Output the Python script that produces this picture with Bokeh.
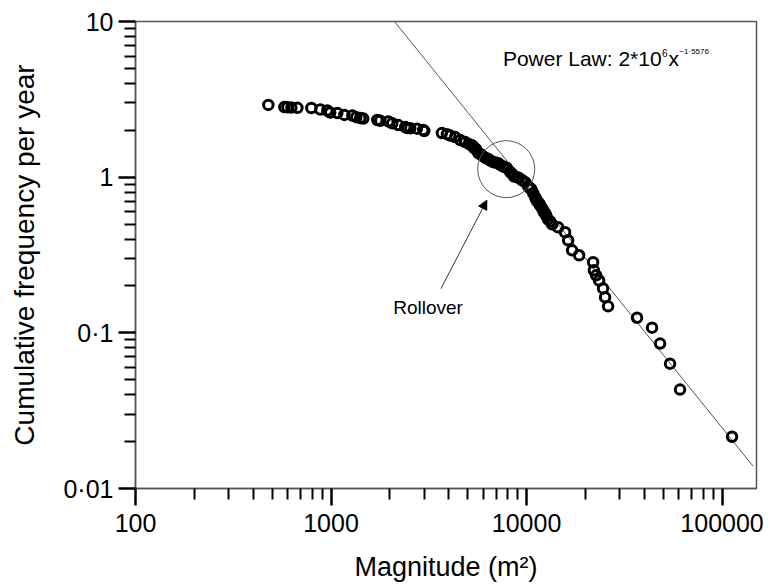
from bokeh.plotting import figure
from bokeh.models import FixedTicker, Label, Arrow, NormalHead
from bokeh.embed import file_html
from bokeh.resources import INLINE

# ---- data ----
magnitude = [478, 577, 598, 627, 673, 793, 882, 957, 991, 1077, 1170, 1285, 1347, 1412, 1462,
             1725, 1786, 1963, 2057, 2208, 2398, 2454, 2543, 2750, 2963, 2997,
             3690, 3915, 4070, 4315, 4580, 4855, 5090, 5210, 5330, 5395, 5525, 5660, 5795, 5860,
             6070, 6220, 6365, 6520, 6750, 6920, 7160, 7330, 7590, 7780, 7960, 8245, 8440,
             8645, 8955, 9160, 9500, 9840, 10190, 10420, 10570, 10810, 11070, 11200, 11330,
             11590, 11730, 12020, 12160, 12300, 12450, 12590, 12880, 13210, 13520,
             14490, 15740, 16320, 17100, 18580, 21900, 22100, 22700, 23500, 24620, 25220,
             26130, 36740, 43850, 48200, 54200, 60950, 112500]
frequency = [2.91, 2.82, 2.81, 2.80, 2.79, 2.78, 2.72, 2.68, 2.60, 2.58, 2.51, 2.49, 2.43, 2.40, 2.38,
             2.33, 2.30, 2.28, 2.22, 2.16, 2.10, 2.07, 2.06, 2.05, 2.01, 1.98,
             1.92, 1.89, 1.85, 1.81, 1.73, 1.68, 1.63, 1.61, 1.58, 1.54, 1.51, 1.43, 1.41, 1.39,
             1.35, 1.32, 1.31, 1.28, 1.25, 1.24, 1.23, 1.20, 1.17, 1.16, 1.14, 1.08, 1.05,
             1.01, 1.00, 0.986, 0.956, 0.929, 0.875, 0.849, 0.838, 0.789, 0.743, 0.722, 0.700,
             0.680, 0.660, 0.631, 0.612, 0.595, 0.586, 0.569, 0.536, 0.520, 0.498,
             0.477, 0.443, 0.393, 0.339, 0.315, 0.284, 0.252, 0.234, 0.217, 0.193, 0.169,
             0.148, 0.125, 0.108, 0.0853, 0.0634, 0.0432, 0.0215]

x_ticks = [100, 1000, 10000, 100000]
x_tick_labels = ["100", "1000", "10000", "100000"]
y_ticks = [0.01, 0.1, 1, 10]
y_tick_labels = ["0\u00b701", "0\u00b71", "1", "10"]

# power-law line as drawn
fit_coef = 1.508e6
fit_exp = -1.5576
fit_x = [2000, 144200]
fit_y = [fit_coef * xv ** fit_exp for xv in fit_x]

# rollover marker
rollover_x = [7870]
rollover_y = [1.126]

FONT = "Liberation Sans"

p = figure(width=771, height=584, x_axis_type="log", y_axis_type="log",
           x_range=(100, 150000), y_range=(0.01, 10),
           output_backend="svg", toolbar_location=None,
           min_border_left=135, min_border_right=15, min_border_top=21, min_border_bottom=96)

p.xgrid.visible = False
p.ygrid.visible = False
p.outline_line_color = "#555555"
p.outline_line_width = 1.5
p.background_fill_color = "white"
p.border_fill_color = "white"

x_minor = [m * 10 ** e for e in (2, 3, 4) for m in range(2, 10)]
y_minor = [m * 10.0 ** e for e in (-2, -1, 0) for m in range(2, 10)]
p.xaxis.ticker = FixedTicker(ticks=x_ticks, minor_ticks=x_minor)
p.yaxis.ticker = FixedTicker(ticks=y_ticks, minor_ticks=y_minor)
p.xaxis.major_label_overrides = dict(zip(x_ticks, x_tick_labels))
p.yaxis.major_label_overrides = dict(zip(y_ticks, y_tick_labels))

p.xaxis.axis_label = "Magnitude (m\u00b2)"
p.yaxis.axis_label = "Cumulative frequency per year"

for ax in (p.xaxis[0], p.yaxis[0]):
    ax.axis_line_color = "#555555"
    ax.axis_line_width = 1.5
    ax.major_tick_line_color = "black"
    ax.major_tick_line_width = 2.5
    ax.major_tick_out = 17
    ax.major_tick_in = 0
    ax.minor_tick_line_color = "black"
    ax.minor_tick_line_width = 2
    ax.minor_tick_out = 11
    ax.minor_tick_in = 0
    ax.major_label_text_font = FONT
    ax.major_label_text_font_size = "25px"
    ax.major_label_text_color = "black"
    ax.axis_label_text_font = FONT
    ax.axis_label_text_font_style = "normal"
    ax.axis_label_text_color = "black"

p.xaxis.axis_label_text_font_size = "27px"
p.yaxis.axis_label_text_font_size = "28px"
p.xaxis.major_label_standoff = 8
p.yaxis.major_label_standoff = 5
p.xaxis.axis_label_standoff = 17
p.yaxis.axis_label_standoff = 20

# power law line
p.line(fit_x, fit_y, line_color="#555555", line_width=1)

# data points
p.scatter(magnitude, frequency, marker="circle", size=9.5, fill_color=None,
          line_color="black", line_width=3)

# rollover circle
p.scatter(rollover_x, rollover_y, marker="circle", size=57, fill_color=None,
          line_color="#555555", line_width=1)

p.add_layout(Arrow(end=NormalHead(size=9, fill_color="black", line_color="black"),
                   x_start=3648, y_start=0.192, x_end=6266, y_end=0.711,
                   line_color="#333333", line_width=1))

p.add_layout(Label(x=2080, y=0.146, text="Rollover", text_font=FONT,
                   text_font_size="19px", text_baseline="alphabetic", text_color="black"))

# power law annotation
px, py = 7568, 5.75
p.add_layout(Label(x=px, y=py, text="Power Law: 2*10", text_font=FONT,
                   text_font_size="21px", text_baseline="alphabetic", text_color="black"))
p.add_layout(Label(x=px, y=py, x_offset=159, y_offset=6, text="6", text_font=FONT,
                   text_font_size="10px", text_baseline="alphabetic", text_color="black"))
p.add_layout(Label(x=px, y=py, x_offset=165.5, text="x", text_font=FONT,
                   text_font_size="21px", text_baseline="alphabetic", text_color="black"))
p.add_layout(Label(x=px, y=py, x_offset=176.5, y_offset=7, text="\u22121\u00b75576", text_font=FONT,
                   text_font_size="8px", text_baseline="alphabetic", text_color="black"))

open("out.html", "w").write(file_html(p, INLINE))
